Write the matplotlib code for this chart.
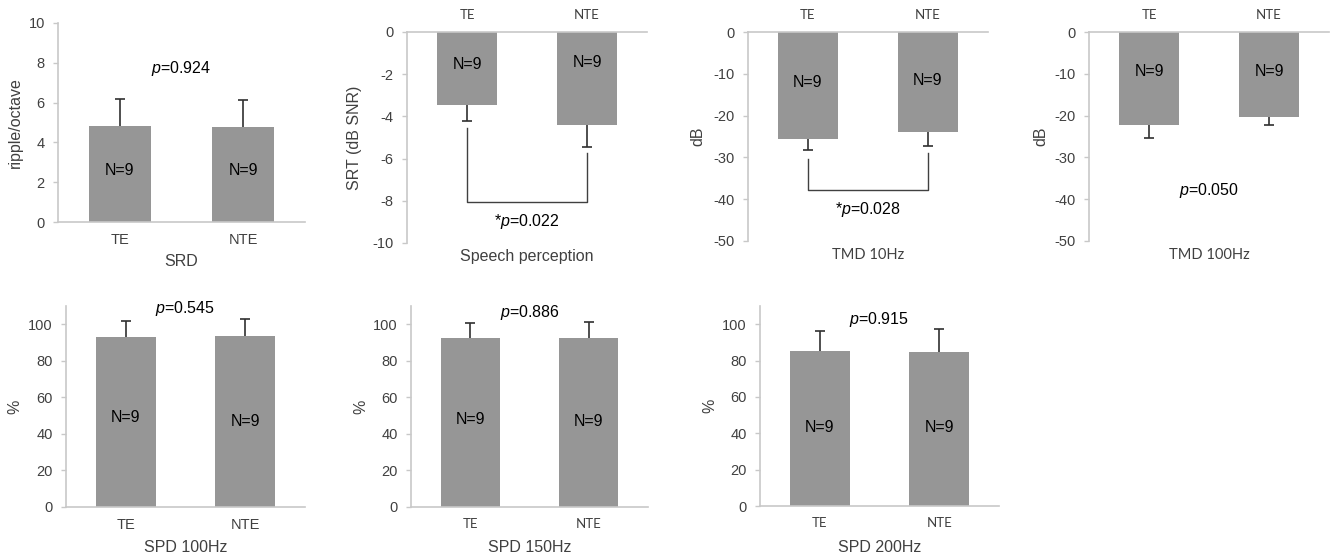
import numpy as np
import matplotlib
matplotlib.use("Agg")
import matplotlib.pyplot as plt

plt.rcParams['font.family'] = ['Liberation Sans', 'DejaVu Sans']
plt.rcParams['mathtext.fontset'] = 'custom'
plt.rcParams['mathtext.rm'] = 'Liberation Sans'
plt.rcParams['mathtext.it'] = 'Liberation Sans:italic'

# data
groups = ["TE", "NTE"]
names = ["SRD", "Speech perception", "TMD 10Hz", "TMD 100Hz", "SPD 100Hz", "SPD 150Hz", "SPD 200Hz"]
ylabels = ["ripple/octave", "SRT (dB SNR)", "dB", "dB", "%", "%", "%"]
te_mean = [4.8, -3.45, -25.5, -22.3, 92.9, 92.6, 85.2]
nte_mean = [4.75, -4.4, -23.9, -20.4, 93.6, 92.6, 84.6]
te_err = [1.4, 0.75, 2.7, 3.1, 8.7, 8.2, 11.0]
nte_err = [1.4, 1.05, 3.3, 1.9, 9.1, 8.4, 12.7]
p_labels = ["$p$=0.924", "*$p$=0.022", "*$p$=0.028", "$p$=0.050",
            "$p$=0.545", "$p$=0.886", "$p$=0.915"]
p_y = [7.7, -9.0, -42.4, -37.8, 108.7, 106.5, 102.7]
n_label = "N=9"
n_y_te = [2.6, -1.55, -12.2, -9.5, 49, 48, 43.4]
n_y_nte = [2.6, -1.45, -11.7, -9.5, 47, 46.7, 43.4]
ylims = [(0, 10), (-10, 0), (-50, 0), (-50, 0), (0, 110), (0, 110), (0, 110)]
ysteps = [2, 2, 10, 10, 20, 20, 20]
# significance brackets: (TE top, bottom, NTE top)
brackets = {1: (-4.55, -8.05, -5.73), 2: (-30.4, -37.8, -29.0)}

W, H = 1333, 558
# axes boxes in pixels: left, right, top, bottom
boxes = [(58, 305, 23, 222), (407, 647, 32, 243), (748, 988, 32, 241), (1089, 1329, 32, 241),
         (66, 305, 306, 507), (411, 648, 306, 507), (760, 999, 306, 506)]
ylab_x = [15, 355, 698, 1041, 15, 361, 710]
xlab_y = [262, 257, 255, 255, 547, 548, 548]
calibri_ticks = [False, True, True, True, False, True, True]
calibri_xlab = [False, False, True, True, False, False, False]

bar_col = "#969696"
spine_col = "#c8c8c8"
text_col = "#404040"

fig = plt.figure(figsize=(W / 100, H / 100), dpi=100)

for i in range(7):
    l, r, t, b = boxes[i]
    ax = fig.add_axes([l / W, (H - b) / H, (r - l) / W, (b - t) / H])
    x = np.arange(2)
    means = [te_mean[i], nte_mean[i]]
    errs = [te_err[i], nte_err[i]]
    neg = means[0] < 0
    ax.bar(x, means, width=0.5, color=bar_col, zorder=2)
    if neg:
        yerr = [errs, [0, 0]]
    else:
        yerr = [[0, 0], errs]
    eb = ax.errorbar(x, means, yerr=yerr, fmt="none", ecolor="#303030",
                     elinewidth=1.2, capsize=3.5, capthick=1.2, zorder=3)
    # drop the cap that sits on the bar end (one-sided error bars)
    for cap in eb[1]:
        if np.allclose(cap.get_ydata(), means):
            cap.remove()
    ax.set_xlim(-0.5, 1.5)
    ax.set_ylim(*ylims[i])
    lo, hi = ylims[i]
    ax.set_yticks(np.arange(lo, min(hi, 100) + 0.1, ysteps[i]))
    ax.set_yticklabels([f"{v:g}" for v in ax.get_yticks()])
    ax.set_xticks(x)

    for s in ax.spines.values():
        s.set_visible(False)
    ax.spines['left'].set_visible(True)
    ax.spines['left'].set_color(spine_col)
    ax.spines['left'].set_linewidth(1.2)
    if neg:
        ax.spines['top'].set_visible(True)
        ax.spines['top'].set_color(spine_col)
        ax.spines['top'].set_linewidth(1.2)
        ax.xaxis.tick_top()
    else:
        ax.spines['bottom'].set_visible(True)
        ax.spines['bottom'].set_color(spine_col)
        ax.spines['bottom'].set_linewidth(1.2)

    ax.tick_params(axis='y', length=3.5, width=1, color=spine_col, labelsize=10.5,
                   labelcolor=text_col, pad=6)
    if calibri_ticks[i]:
        ax.set_xticklabels(groups, family=['Lato', 'DejaVu Sans'], fontsize=9.5, color=text_col)
        ax.tick_params(axis='x', length=0, pad=8)
    else:
        ax.set_xticklabels(groups, fontsize=10.5, color=text_col)
        ax.tick_params(axis='x', length=0, pad=8)

    ax.set_ylabel(ylabels[i], fontsize=11.5, color=text_col)
    ax.yaxis.set_label_coords((ylab_x[i] - l) / (r - l), 0.5)
    ax.yaxis.label.set_va('center')
    if calibri_xlab[i]:
        ax.set_xlabel(names[i], fontsize=10.5, color=text_col, family=['Lato', 'DejaVu Sans'])
    else:
        ax.set_xlabel(names[i], fontsize=11.5, color=text_col)
    ax.xaxis.set_label_coords(0.5, (b - xlab_y[i]) / (b - t))
    ax.xaxis.label.set_va('center')

    ax.text(0, n_y_te[i], n_label, ha='center', va='center', fontsize=11.5, color='black', zorder=4)
    ax.text(1, n_y_nte[i], n_label, ha='center', va='center', fontsize=11.5, color='black', zorder=4)
    ax.text(0.5, p_y[i], p_labels[i], ha='center', va='center', fontsize=11.5, color='black')

    if i in brackets:
        y0, yb, y1 = brackets[i]
        ax.plot([0, 0, 1, 1], [y0, yb, yb, y1], color=text_col, lw=1.0, zorder=3)

fig.savefig("out.png", dpi=100)
